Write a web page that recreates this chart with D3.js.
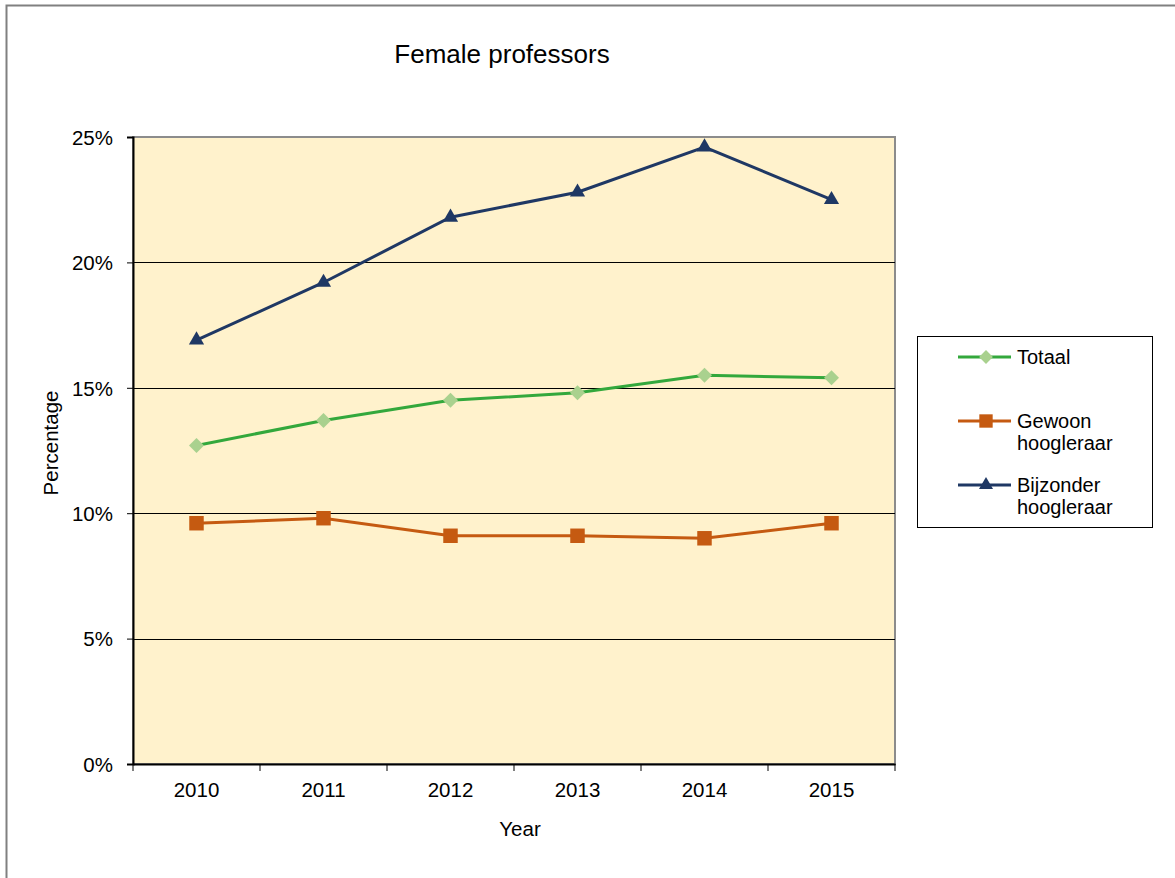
<!DOCTYPE html>
<html>
<head>
<meta charset="utf-8">
<script src="https://cdn.jsdelivr.net/npm/d3@7"></script>
<style>
  body { margin: 0; background: #fff; }
  svg text { font-family: "Liberation Sans", Arial, sans-serif; fill: #000; }
</style>
</head>
<body>
<div class="svg-canvas"></div>
<script>
// Data
var years = ["2010", "2011", "2012", "2013", "2014", "2015"];
var totaal = [12.7, 13.7, 14.5, 14.8, 15.5, 15.4];
var gewoon = [9.6, 9.8, 9.1, 9.1, 9.0, 9.6];
var bijzonder = [16.9, 19.2, 21.8, 22.8, 24.6, 22.5];
var yTicks = [0, 5, 10, 15, 20, 25];

// diamond = square turned 45deg
var diamond = {
  draw: function(ctx, size) {
    var r = Math.sqrt(size / 2);
    ctx.moveTo(0, -r); ctx.lineTo(r, 0); ctx.lineTo(0, r); ctx.lineTo(-r, 0); ctx.closePath();
  }
};

var series = [
  { name: ["Totaal"], values: totaal, line: "#33a83c", fill: "#a9d18e", shape: diamond, size: 112 },
  { name: ["Gewoon", "hoogleraar"], values: gewoon, line: "#c55a11", fill: "#c55a11", shape: d3.symbolSquare, size: 210 },
  { name: ["Bijzonder", "hoogleraar"], values: bijzonder, line: "#1f3864", fill: "#1f3864", shape: d3.symbolTriangle, size: 100 }
];

var W = 1175, H = 878;
var plot = { left: 133, top: 137, right: 895, bottom: 764 };

var svg = d3.select(".svg-canvas").append("svg")
    .attr("width", W)
    .attr("height", H);

// outer chart frame
svg.append("rect")
    .attr("x", 6.5).attr("y", 5.5)
    .attr("width", W + 10).attr("height", H + 10)
    .attr("fill", "#fff")
    .attr("stroke", "#808080")
    .attr("stroke-width", 2);

var x = d3.scaleBand().domain(years).range([plot.left, plot.right]);
var y = d3.scaleLinear().domain([0, 25]).range([plot.bottom, plot.top]);

// plot background
svg.append("rect")
    .attr("x", plot.left).attr("y", plot.top)
    .attr("width", plot.right - plot.left).attr("height", plot.bottom - plot.top)
    .attr("fill", "#fff2cc")
    .attr("stroke", "#8c8c8c")
    .attr("stroke-width", 2);

// gridlines
svg.append("g").selectAll("line")
    .data(yTicks.slice(1, -1))
    .enter().append("line")
    .attr("x1", plot.left).attr("x2", plot.right)
    .attr("y1", function(d){ return Math.round(y(d)) + 0.5; })
    .attr("y2", function(d){ return Math.round(y(d)) + 0.5; })
    .attr("stroke", "#000")
    .attr("stroke-width", 1);

// y axis
var yAxis = svg.append("g")
    .attr("transform", "translate(" + plot.left + ",0)")
    .call(d3.axisLeft(y).tickValues(yTicks).tickSize(6).tickPadding(14)
        .tickFormat(function(d){ return d + "%"; }));
yAxis.select(".domain").attr("stroke", "#000").attr("stroke-width", 2);
yAxis.selectAll("text").style("font-size", "20.5px").attr("dy", "0.36em");

// x axis
var xAxis = svg.append("g")
    .attr("transform", "translate(0," + plot.bottom + ")")
    .call(d3.axisBottom(x).tickSize(0).tickPadding(18));
xAxis.select(".domain").attr("stroke", "#000").attr("stroke-width", 2);
xAxis.selectAll("text").style("font-size", "20.5px");
// ticks at category boundaries
xAxis.selectAll(".bound")
    .data(d3.range(years.length + 1))
    .enter().append("line")
    .attr("x1", function(i){ return plot.left + i * x.bandwidth(); })
    .attr("x2", function(i){ return plot.left + i * x.bandwidth(); })
    .attr("y1", 0).attr("y2", 7)
    .attr("stroke", "#000");

// lines and markers
var line = d3.line()
    .x(function(d, i){ return x(years[i]) + x.bandwidth() / 2; })
    .y(function(d){ return y(d); });

series.forEach(function(s){
  svg.append("path")
      .datum(s.values)
      .attr("d", line)
      .attr("fill", "none")
      .attr("stroke", s.line)
      .attr("stroke-width", 3);
  svg.append("g").selectAll("path")
      .data(s.values)
      .enter().append("path")
      .attr("transform", function(d, i){
        return "translate(" + (x(years[i]) + x.bandwidth() / 2) + "," + y(d) + ")";
      })
      .attr("d", d3.symbol().type(s.shape).size(s.size))
      .attr("fill", s.fill);
});

// title and axis labels
svg.append("text")
    .attr("x", 502).attr("y", 63)
    .attr("text-anchor", "middle")
    .style("font-size", "26px")
    .text("Female professors");

svg.append("text")
    .attr("x", 520).attr("y", 836)
    .attr("text-anchor", "middle")
    .style("font-size", "20.5px")
    .text("Year");

svg.append("text")
    .attr("transform", "translate(58,443) rotate(-90)")
    .attr("text-anchor", "middle")
    .style("font-size", "20.5px")
    .text("Percentage");

// legend
var lg = svg.append("g");
lg.append("rect")
    .attr("x", 917.5).attr("y", 336.5)
    .attr("width", 235).attr("height", 191)
    .attr("fill", "#fff")
    .attr("stroke", "#000");

var legendY = [357, 421, 485];
series.forEach(function(s, i){
  var g = lg.append("g").attr("transform", "translate(0," + legendY[i] + ")");
  g.append("line")
      .attr("x1", 958).attr("x2", 1011)
      .attr("stroke", s.line).attr("stroke-width", 3);
  g.append("path")
      .attr("transform", "translate(986,0)")
      .attr("d", d3.symbol().type(s.shape).size(s.size * 0.85))
      .attr("fill", s.fill);
  var t = g.append("text")
      .attr("x", 1017).attr("y", 7)
      .style("font-size", "20px");
  s.name.forEach(function(n, j){
    t.append("tspan").attr("x", 1017).attr("dy", j === 0 ? 0 : 22).text(n);
  });
});
</script>
</body>
</html>
